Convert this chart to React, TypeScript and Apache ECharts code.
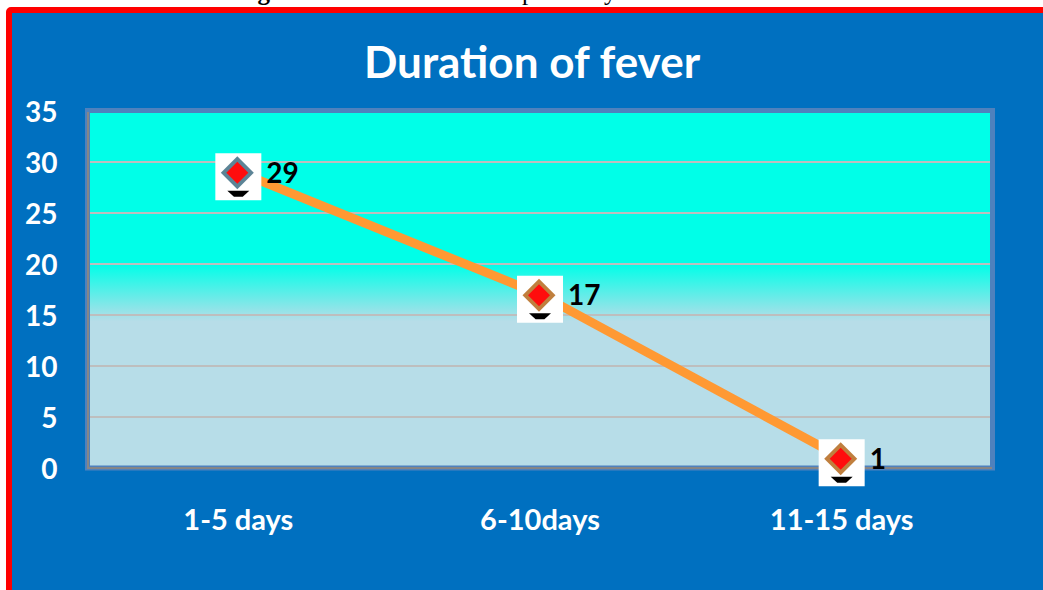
import React, { useEffect, useRef } from "react";
import * as echarts from "echarts";

const categories = ["1-5 days", "6-10days", "11-15 days"];
const values = [29, 17, 1];
const yTicks = { min: 0, max: 35, interval: 5 };
const titleText = "Duration of fever";
const captionBold = "Fig. 6:";
const captionText = " The duration of NS1 positivity and duration of fever.";
const FONT = "Lato, 'Open Sans', sans-serif";

export default function App() {
  const ref = useRef<HTMLDivElement>(null);
  useEffect(() => {
    const chart = echarts.init(ref.current!, null, { renderer: "svg" });
    const overlay = (extra: any) => ({
      type: "scatter",
      data: values,
      clip: false,
      silent: true,
      ...extra,
    });
    chart.setOption({
      animation: false,
      backgroundColor: "#ffffff",
      textStyle: { fontFamily: FONT },
      graphic: [
        {
          type: "rect",
          z: -10,
          shape: { x: 9, y: 10, width: 1200, height: 800, r: 2 },
          style: { fill: "#0070C0", stroke: "#FF0000", lineWidth: 6 },
        },
        {
          type: "text",
          z: -9,
          x: 838,
          y: 5,
          style: {
            text: `{b|${captionBold}}{r|${captionText}}`,
            align: "right",
            verticalAlign: "bottom",
            rich: {
              b: { font: "bold 25px 'Liberation Serif', serif", fill: "#000000", lineHeight: 27 },
              r: { font: "25px 'Liberation Serif', serif", fill: "#000000", lineHeight: 27 },
            },
          },
        },
        {
          type: "rect",
          z: 2,
          shape: { x: 87.5, y: 110.5, width: 905, height: 357.5 },
          style: { fill: "none", stroke: "#4F81BD", lineWidth: 5 },
        },
        {
          type: "polyline",
          z: 2,
          shape: { points: [[88, 112], [88, 468], [992, 468]] },
          style: { fill: "none", stroke: "#868686", lineWidth: 2 },
        },
      ],
      title: {
        text: titleText,
        left: 527,
        top: 34,
        textAlign: "center",
        textStyle: { color: "#ffffff", fontSize: 44, fontWeight: "bold", fontFamily: FONT },
      },
      grid: {
        show: true,
        left: 87.5,
        right: 50.5,
        top: 110.5,
        bottom: 122,
        borderWidth: 0,
        backgroundColor: {
          type: "linear",
          x: 0,
          y: 0,
          x2: 0,
          y2: 1,
          colorStops: [
            { offset: 0, color: "#00FFE8" },
            { offset: 0.43, color: "#00FFE8" },
            { offset: 0.59, color: "#B7DDE8" },
            { offset: 1, color: "#B7DDE8" },
          ],
        },
      },
      xAxis: {
        type: "category",
        data: categories,
        boundaryGap: true,
        axisTick: { show: false },
        axisLine: { show: false },
        axisLabel: { color: "#ffffff", fontSize: 29, fontWeight: "bold", margin: 36, fontFamily: FONT },
      },
      yAxis: {
        type: "value",
        ...yTicks,
        axisTick: { show: false },
        axisLine: { show: false },
        axisLabel: { color: "#ffffff", fontSize: 28, fontWeight: "bold", margin: 30, fontFamily: FONT },
        splitLine: { show: true, showMaxLine: false, showMinLine: false, lineStyle: { color: "#BEBEBE", width: 2 } },
      },
      series: [
        {
          type: "line",
          data: values,
          symbol: "none",
          lineStyle: { color: "#FF9933", width: 9, cap: "butt" },
          z: 3,
        },
        overlay({
          symbol: "rect",
          symbolSize: [46, 47],
          symbolOffset: [0, 5],
          itemStyle: { color: "#ffffff", opacity: 1 },
          z: 4,
        }),
        overlay({
          symbol: "path://M0 0 L20 0 L14 5 L6 5 Z",
          symbolSize: [22, 6],
          symbolOffset: [0, 22],
          itemStyle: { color: "#000000", opacity: 1 },
          z: 5,
        }),
        overlay({
          symbol: "diamond",
          symbolSize: 33,
          symbolOffset: [-1, 1],
          itemStyle: { color: (p: any) => (p.dataIndex === 0 ? "#5C8496" : "#C07F3E"), opacity: 1 },
          z: 6,
        }),
        overlay({
          symbol: "diamond",
          symbolSize: 22,
          symbolOffset: [-1, 1],
          itemStyle: { color: "#FF0D0D", opacity: 1 },
          z: 7,
        }),
        {
          type: "line",
          data: values,
          symbol: "circle",
          symbolSize: 0,
          showSymbol: true,
          lineStyle: { opacity: 0 },
          clip: false,
          z: 8,
          label: {
            show: true,
            position: "right",
            distance: 28,
            color: "#000000",
            fontSize: 28,
            fontWeight: "bold",
            fontFamily: FONT,
          },
        },
      ],
    });
    return () => chart.dispose();
  }, []);
  return (
    <div
      ref={ref}
      style={{ position: "fixed", left: 0, top: 0, width: 1043, height: 590 }}
    />
  );
}
